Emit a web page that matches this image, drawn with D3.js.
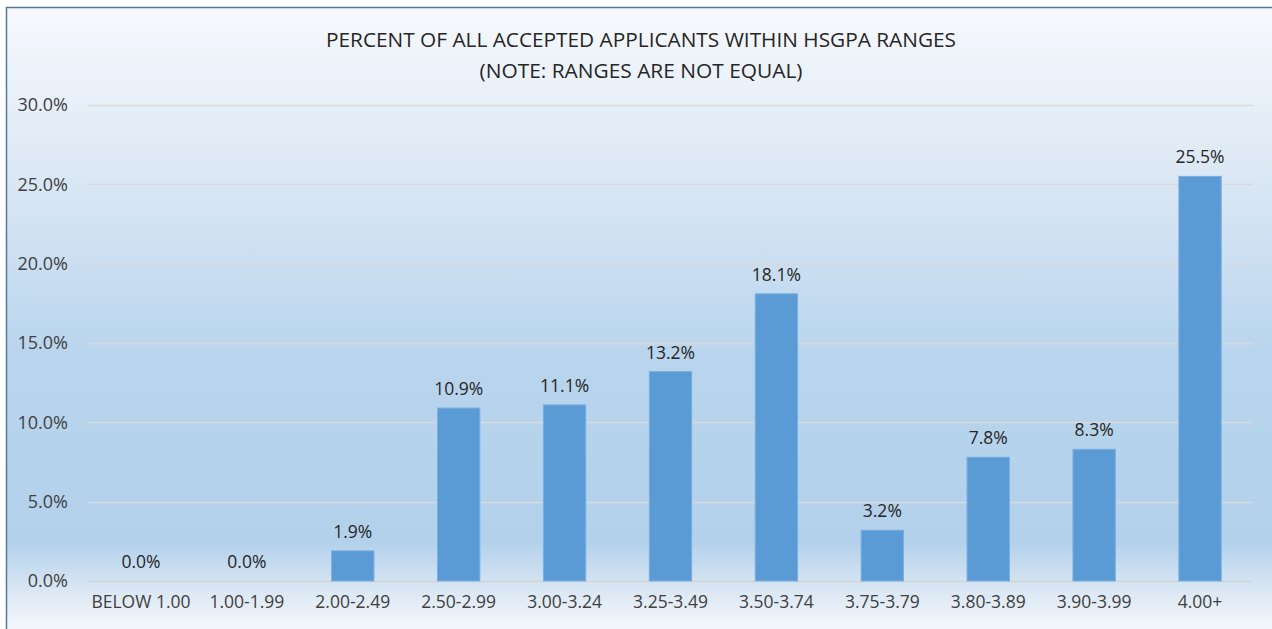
<!DOCTYPE html>
<html>
<head>
<meta charset="utf-8">
<script src="https://cdn.jsdelivr.net/npm/d3@7"></script>
<style>
  html, body { margin: 0; padding: 0; background: #fff; }
  svg { display: block; font-family: "Open Sans", "Noto Sans", sans-serif; }
</style>
</head>
<body>
<script>
const categories = ["BELOW 1.00", "1.00-1.99", "2.00-2.49", "2.50-2.99", "3.00-3.24", "3.25-3.49",
  "3.50-3.74", "3.75-3.79", "3.80-3.89", "3.90-3.99", "4.00+"];
const percents = [0.0, 0.0, 1.9, 10.9, 11.1, 13.2, 18.1, 3.2, 7.8, 8.3, 25.5];
const yTicks = [0, 5, 10, 15, 20, 25, 30];
const titleLines = ["PERCENT OF ALL ACCEPTED APPLICANTS WITHIN HSGPA RANGES", "(NOTE: RANGES ARE NOT EQUAL)"];

const W = 1272, H = 629;
const margin = { top: 105, right: 19, bottom: 48, left: 88 };
const width = W - margin.left - margin.right,
    height = H - margin.top - margin.bottom;

const svg = d3.select("body")
    .append("svg")
    .attr("width", W)
    .attr("height", H);

// background gradient like the office chart style
const grad = svg.append("defs").append("linearGradient")
    .attr("id", "bg")
    .attr("x1", 0).attr("y1", 0).attr("x2", 0).attr("y2", 1);
[[0, "#f7f9fd"], [0.25, "#dde9f5"], [0.55, "#b9d5ed"], [0.85, "#b3d1eb"], [0.93, "#dce8f4"], [1, "#f9fbfd"]]
    .forEach(([o, c]) => grad.append("stop").attr("offset", o).attr("stop-color", c));

svg.append("rect")
    .attr("x", 6.5).attr("y", 7.5)
    .attr("width", W).attr("height", H)
    .attr("fill", "url(#bg)")
    .attr("stroke", "#56789a")
    .attr("stroke-width", 1.5);

const g = svg.append("g")
    .attr("transform", `translate(${margin.left},${margin.top})`);

const x = d3.scaleBand()
    .domain(categories)
    .range([0, width])
    .paddingInner(0.6)
    .paddingOuter(0.3);

const y = d3.scaleLinear()
    .domain([0, 30])
    .range([height, 0]);

// gridlines
g.append("g")
    .selectAll("line")
    .data(yTicks)
    .enter()
    .append("line")
    .attr("x1", 0).attr("x2", width)
    .attr("y1", d => Math.round(y(d)) + 0.5)
    .attr("y2", d => Math.round(y(d)) + 0.5)
    .attr("stroke", d => d === 0 ? "#d4d4d4" : "#d9d9d9")
    .attr("stroke-width", 1.5);

// y labels
const yAxis = g.append("g")
    .call(d3.axisLeft(y).tickValues(yTicks).tickFormat(d => d.toFixed(1) + "%").tickSize(0).tickPadding(20));
yAxis.select(".domain").remove();
yAxis.selectAll("text")
    .attr("font-family", "Open Sans, sans-serif")
    .attr("font-size", 18)
    .attr("fill", "#404040");

// x labels
const xAxis = g.append("g")
    .attr("transform", `translate(0,${height})`)
    .call(d3.axisBottom(x).tickSize(0).tickPadding(15));
xAxis.select(".domain").remove();
xAxis.selectAll("text")
    .attr("font-family", "Open Sans, sans-serif")
    .attr("font-size", 17.5)
    .attr("fill", "#404040");

// bars
g.selectAll("rect.bar")
    .data(percents)
    .enter()
    .append("rect")
    .attr("class", "bar")
    .attr("x", (d, i) => x(categories[i]))
    .attr("y", d => y(d))
    .attr("width", x.bandwidth())
    .attr("height", d => height - y(d))
    .attr("fill", "#5b9bd5")
    .attr("stroke", d => d === 0 ? "#c9d9ea" : "#7bafe0")
    .attr("stroke-width", 1);

// value labels
g.selectAll("text.val")
    .data(percents)
    .enter()
    .append("text")
    .attr("class", "val")
    .attr("x", (d, i) => x(categories[i]) + x.bandwidth() / 2)
    .attr("y", d => y(d) - 13)
    .attr("text-anchor", "middle")
    .attr("font-size", 17.5)
    .attr("fill", "#262626")
    .text(d => d.toFixed(1) + "%");

// title
svg.selectAll("text.title")
    .data(titleLines)
    .enter()
    .append("text")
    .attr("class", "title")
    .attr("x", 641)
    .attr("y", (d, i) => 47 + i * 31)
    .attr("text-anchor", "middle")
    .attr("font-size", 20)
    .attr("fill", "#262626")
    .attr("textLength", (d, i) => i === 0 ? 630 : 323)
    .attr("lengthAdjust", "spacingAndGlyphs")
    .text(d => d);
</script>
</body>
</html>
